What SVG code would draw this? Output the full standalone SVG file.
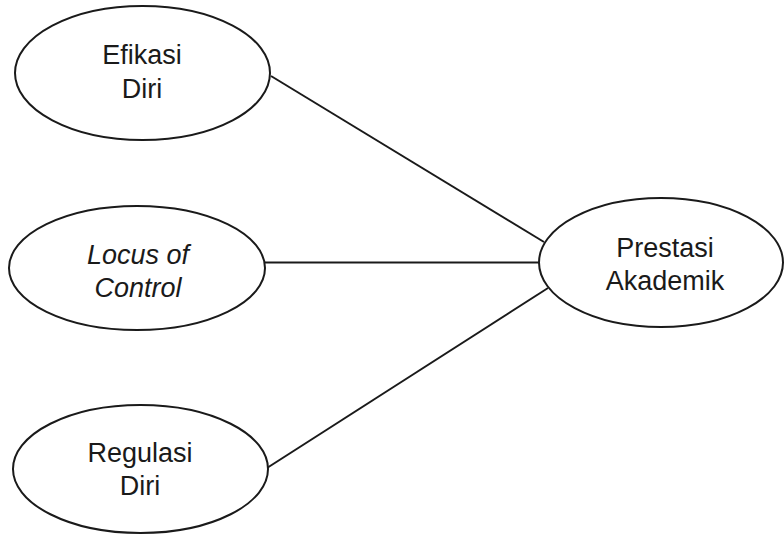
<svg xmlns="http://www.w3.org/2000/svg" width="784" height="535" viewBox="0 0 784 535">
<style>
.node ellipse { fill: #ffffff; stroke: #1a1a1a; stroke-width: 2; }
.node text { font-family: "Liberation Sans", Arial, sans-serif; font-size: 27px; fill: #1a1a1a; text-anchor: middle; }
.node text.it { font-style: italic; }
.edges line { stroke: #1a1a1a; stroke-width: 2; }
</style>
<rect width="784" height="535" fill="#ffffff"/>
<g id="edges" class="edges">
<line x1="271" y1="76" x2="544" y2="242"/>
<line x1="264" y1="262.5" x2="539" y2="262.5"/>
<line x1="267" y1="468" x2="548" y2="288"/>
</g>
<g id="efikasi-diri" class="node">
<ellipse cx="142.5" cy="73" rx="127.5" ry="67"/>
<text x="142" y="64">Efikasi</text>
<text x="142" y="98">Diri</text>
</g>
<g id="locus-of-control" class="node">
<ellipse cx="137" cy="268" rx="128" ry="62"/>
<text class="it" x="138" y="264">Locus of</text>
<text class="it" x="138" y="297">Control</text>
</g>
<g id="regulasi-diri" class="node">
<ellipse cx="140.5" cy="469" rx="127.5" ry="64"/>
<text x="140" y="462">Regulasi</text>
<text x="140" y="495">Diri</text>
</g>
<g id="prestasi-akademik" class="node">
<ellipse cx="661" cy="262.5" rx="122" ry="64.5"/>
<text x="665" y="257">Prestasi</text>
<text x="665" y="290">Akademik</text>
</g>
</svg>
